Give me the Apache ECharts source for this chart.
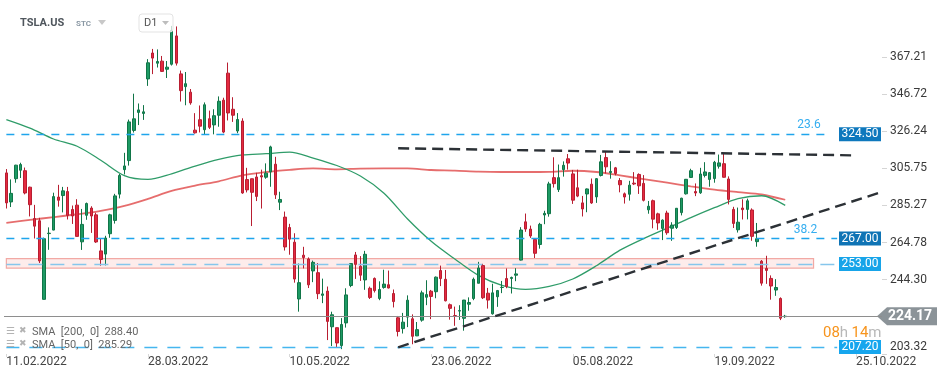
<!DOCTYPE html>
<html>
<head>
<meta charset="utf-8">
<title>TSLA.US D1</title>
<script src="https://cdn.jsdelivr.net/npm/echarts@6/dist/echarts.min.js"></script>
<style>
  html, body { margin: 0; padding: 0; background: #fff; }
  #main { width: 949px; height: 378px; }
</style>
</head>
<body>
<div id="main"></div>
<script>
// trading days on the chart
var dates = [
  '11.02.2022','14.02.2022','15.02.2022','16.02.2022','17.02.2022','18.02.2022','22.02.2022','23.02.2022','24.02.2022','25.02.2022',
  '28.02.2022','01.03.2022','02.03.2022','03.03.2022','04.03.2022','07.03.2022','08.03.2022','09.03.2022','10.03.2022','11.03.2022',
  '14.03.2022','15.03.2022','16.03.2022','17.03.2022','18.03.2022','21.03.2022','22.03.2022','23.03.2022','24.03.2022','25.03.2022',
  '28.03.2022','29.03.2022','30.03.2022','31.03.2022','01.04.2022','04.04.2022','05.04.2022','06.04.2022','07.04.2022','08.04.2022',
  '11.04.2022','12.04.2022','13.04.2022','14.04.2022','18.04.2022','19.04.2022','20.04.2022','21.04.2022','22.04.2022','25.04.2022',
  '26.04.2022','27.04.2022','28.04.2022','29.04.2022','02.05.2022','03.05.2022','04.05.2022','05.05.2022','06.05.2022','09.05.2022',
  '10.05.2022','11.05.2022','12.05.2022','13.05.2022','16.05.2022','17.05.2022','18.05.2022','19.05.2022','20.05.2022','23.05.2022',
  '24.05.2022','25.05.2022','26.05.2022','27.05.2022','31.05.2022','01.06.2022','02.06.2022','03.06.2022','06.06.2022','07.06.2022',
  '08.06.2022','09.06.2022','10.06.2022','13.06.2022','14.06.2022','15.06.2022','16.06.2022','17.06.2022','21.06.2022','22.06.2022',
  '23.06.2022','24.06.2022','27.06.2022','28.06.2022','29.06.2022','30.06.2022','01.07.2022','05.07.2022','06.07.2022','07.07.2022',
  '08.07.2022','11.07.2022','12.07.2022','13.07.2022','14.07.2022','15.07.2022','18.07.2022','19.07.2022','20.07.2022','21.07.2022',
  '22.07.2022','25.07.2022','26.07.2022','27.07.2022','28.07.2022','29.07.2022','01.08.2022','02.08.2022','03.08.2022','04.08.2022',
  '05.08.2022','08.08.2022','09.08.2022','10.08.2022','11.08.2022','12.08.2022','15.08.2022','16.08.2022','17.08.2022','18.08.2022',
  '19.08.2022','22.08.2022','23.08.2022','24.08.2022','25.08.2022','26.08.2022','29.08.2022','30.08.2022','31.08.2022','01.09.2022',
  '02.09.2022','06.09.2022','07.09.2022','08.09.2022','09.09.2022','12.09.2022','13.09.2022','14.09.2022','15.09.2022','16.09.2022',
  '19.09.2022','20.09.2022','21.09.2022','22.09.2022','23.09.2022','26.09.2022','27.09.2022','28.09.2022','29.09.2022','30.09.2022',
  '03.10.2022','04.10.2022','05.10.2022','06.10.2022','07.10.2022','10.10.2022'
];
// empty slots to the right of the last candle
var futureDays = [
  '11.10.2022','12.10.2022','13.10.2022','14.10.2022','15.10.2022','16.10.2022','17.10.2022','18.10.2022','19.10.2022','20.10.2022',
  '21.10.2022','22.10.2022','23.10.2022','24.10.2022','25.10.2022','26.10.2022','27.10.2022','28.10.2022','29.10.2022','30.10.2022'
];
// [open, close, low, high]
var ohlc = [
  [303.21,286.67,283.57,305.32],[287.19,291.92,284.38,299.63],[300.00,307.48,297.79,307.67],[304.68,307.80,300.40,308.81],[304.42,292.12,291.37,306.17],
  [295.33,285.66,279.20,295.62],[278.04,273.84,267.03,285.58],[276.81,254.68,253.52,278.43],[233.46,266.92,233.33,267.49],[269.74,269.96,260.80,273.17],
  [271.67,290.14,271.57,292.29],[289.89,288.12,284.59,296.63],[290.71,293.30,281.42,295.49],[292.92,279.76,277.53,295.48],[283.03,279.43,275.05,285.22],
  [285.43,268.19,268.19,288.71],[265.18,274.80,260.72,283.33],[279.83,286.32,277.34,286.85],[283.82,279.43,270.12,284.82],[280.07,265.12,264.59,281.27],
  [260.20,255.46,252.01,266.90],[258.42,267.30,252.19,268.52],[269.67,280.08,267.42,280.67],[277.00,290.53,275.24,291.67],[291.50,301.80,289.13,302.62],
  [304.99,307.05,302.36,314.28],[310.00,331.33,307.25,332.62],[326.65,333.04,325.47,346.90],[336.58,337.97,329.60,341.50],[336.00,336.88,332.44,340.60],
  [355.03,363.95,351.20,365.96],[369.33,366.52,357.70,371.59],[363.72,364.66,361.33,371.32],[364.86,359.20,358.88,367.71],[360.38,361.53,355.55,364.92],
  [363.13,381.82,362.43,384.29],[378.77,363.75,362.43,384.00],[357.82,348.59,342.57,359.67],[350.80,352.42,340.51,358.86],[347.74,341.83,340.81,349.48],
  [326.80,325.31,324.88,336.16],[332.55,328.98,325.53,340.40],[327.03,340.79,324.37,342.08],[333.10,328.33,327.40,337.57],[329.68,334.76,324.47,338.31],
  [335.02,342.72,328.67,345.40],[343.33,325.73,325.08,344.67],[358.24,336.26,332.14,364.07],[338.30,335.02,331.33,344.95],[326.32,332.67,325.10,336.21],
  [331.81,292.14,291.67,333.33],[299.53,293.84,292.45,306.00],[299.99,292.50,273.90,300.00],[300.96,290.25,287.67,303.28],[301.67,300.98,283.54,305.00],
  [300.82,303.08,299.97,308.46],[303.77,317.54,295.56,318.21],[308.00,291.09,288.83,312.08],[287.03,288.55,282.70,292.81],[278.82,262.37,260.38,281.88],
  [273.10,266.68,258.08,275.12],[265.00,244.67,242.67,269.92],[233.67,242.67,226.67,253.22],[257.83,256.53,250.52,262.45],[255.72,241.46,239.70,256.59],
  [249.12,253.87,242.95,254.83],[248.17,236.60,233.60,253.50],[235.67,236.47,231.37,244.89],[238.00,221.30,211.00,240.53],[218.34,224.97,207.69,226.65],
  [217.84,209.39,206.86,217.97],[207.95,219.60,206.00,223.11],[220.47,235.91,217.89,239.56],[241.08,253.21,240.18,253.27],[257.95,252.75,244.74,259.60],
  [251.72,246.79,243.62,257.33],[244.18,258.33,238.71,260.21],[239.56,234.52,233.67,240.50],[245.00,238.28,237.24,245.54],[233.95,238.89,233.00,243.41],
  [240.04,241.87,239.35,249.83],[241.53,239.71,239.50,249.33],[236.68,232.23,229.00,238.89],[223.29,215.74,213.02,224.30],[217.33,220.89,214.61,225.99],
  [223.67,233.00,218.15,235.66],[222.74,213.10,208.69,225.17],[213.32,216.76,213.20,220.97],[221.99,237.04,221.13,238.27],[234.63,236.09,230.26,244.00],
  [237.96,235.07,222.55,238.66],[237.67,245.71,234.07,246.07],[249.37,244.92,240.77,252.07],[244.54,232.66,232.33,249.67],[230.50,228.49,222.27,231.17],
  [224.51,224.47,218.86,229.46],[227.00,227.26,222.12,230.23],[223.00,233.07,216.17,233.15],[230.78,231.73,227.19,234.56],[233.92,244.54,233.00,245.47],
  [242.33,250.76,242.33,254.15],[252.10,234.34,233.63,253.06],[236.85,233.07,228.37,239.77],[225.50,237.04,225.03,242.06],[234.90,238.31,229.33,238.65],
  [240.00,240.07,236.89,243.62],[244.94,240.55,239.60,250.52],[245.00,245.53,236.69,246.00],[246.78,247.50,243.48,250.66],[255.11,271.71,254.87,273.27],
  [276.22,272.24,270.71,280.79],[272.22,268.43,267.34,274.14],[266.51,258.86,256.26,267.31],[263.73,274.82,261.43,275.66],[279.99,280.90,274.92,282.33],
  [280.70,297.15,279.06,298.32],[300.59,297.28,295.13,311.83],[294.00,300.59,292.67,307.83],[305.00,307.40,301.16,309.55],[311.00,308.63,305.00,313.61],
  [302.67,288.17,286.10,304.83],[295.00,290.42,289.83,305.00],[286.67,283.33,279.17,290.51],[291.58,294.36,281.52,294.63],[297.00,286.63,286.14,300.12],
  [289.98,300.03,286.67,300.33],[301.79,309.32,301.23,313.13],[311.67,306.56,302.88,314.67],[303.40,304.00,300.03,309.66],[306.00,302.87,301.85,306.50],
  [299.00,296.67,292.50,300.36],[291.67,289.91,286.29,292.40],[291.45,296.45,287.92,298.83],[297.56,297.10,296.50,303.65],[302.36,296.07,291.60,302.96],
  [297.43,288.09,287.47,302.00],[282.83,284.82,280.70,287.74],[287.87,277.70,272.65,288.48],[280.62,275.61,271.81,281.25],[272.58,277.16,266.15,277.58],
  [281.07,270.21,269.08,282.35],[272.68,274.42,265.74,275.99],[273.10,283.70,272.27,283.84],[281.30,289.26,279.76,289.50],[291.67,299.68,291.25,299.85],
  [300.72,304.42,300.40,305.49],[292.90,292.13,290.40,297.40],[292.24,302.61,291.64,306.00],[301.83,303.75,300.72,309.12],[299.61,303.35,295.60,303.71],
  [300.09,309.07,297.80,309.84],[306.91,308.73,305.58,313.33],[308.29,300.80,300.63,313.80],[299.86,288.59,285.82,301.29],[283.09,275.33,272.82,284.50],
  [271.83,276.01,270.31,284.09],[283.84,282.94,277.51,288.67],[283.08,287.81,277.57,289.00],[282.76,268.21,265.78,283.65],[265.30,266.90,262.50,275.60],
  [254.50,242.40,241.01,255.16],[250.52,249.44,242.01,257.50],[245.01,240.81,233.27,246.67],[238.60,240.00,235.40,244.60],[233.94,223.07,222.02,234.57],
  [223.93,224.17,223.30,224.90]
];
// moving averages, one point every 5 bars
var smaStep = 5;
var sma200 = [275.6,277.3,278.8,280.4,282.3,285.0,288.9,293.3,296.2,298.6,301.9,303.7,304.9,305.7,305.2,305.6,305.7,
  305.7,304.8,304.5,303.9,303.7,303.7,303.8,304.4,303.7,301.8,299.8,297.8,295.8,294.0,292.6,291.3,288.4];
var sma50 = [332.6,327.9,321.9,317.9,310.2,301.7,299.6,302.7,307.0,310.7,313.1,313.8,314.7,311.4,307.3,301.5,292.0,
  277.8,265.5,255.7,246.7,241.2,239.0,240.6,244.7,252.0,260.6,267.0,272.7,278.5,284.0,289.0,290.6,285.3];
var yTicks = [203.32, 244.30, 264.78, 285.27, 305.75, 326.24, 346.72, 367.21];
var lastPrice = 224.17;
var fibLevels = [324.50, 267.00];
var fibNames = ['23.6', '38.2'];
var zoneLevel = 253.00;
var zoneRange = [250.7, 255.9];
var supportLevel = 207.20;
// trend lines: [startIndex, startValue, endIndex, endValue]
var upperTrend = [82.8, 316.8, 179.4, 312.9];
var lowerTrend = [82.8, 207.0, 184.7, 292.3];
var sma200Last = '288.40';
var sma50Last = '285.29';

var allDays = dates.concat(futureDays);
var font = 'Roboto, "Noto Sans", sans-serif';

var toPoints = function (list) {
  var out = [];
  for (var i = 0; i < list.length; i++) {
    out.push([i * smaStep, list[i]]);
  }
  return out;
};

var blueDash = function (v, endIdx, color, dash, name, dist) {
  return [
    { coord: [-0.5, v], lineStyle: { color: color, width: 1.3, type: dash },
      label: name ? { show: true, position: 'insideEndTop', formatter: name, color: '#35aef0',
        fontSize: 12, fontFamily: font, distance: [dist, 3] } : { show: false } },
    { coord: [endIdx, v] }
  ];
};

var chart = echarts.init(document.getElementById('main'));

var option = {
  animation: false,
  backgroundColor: '#fff',
  grid: { left: 4, right: 67, top: 10, bottom: 24 },
  xAxis: {
    type: 'category',
    data: allDays,
    boundaryGap: true,
    axisLine: { show: false },
    axisTick: { show: true, alignWithLabel: true, length: 3, lineStyle: { color: '#d8d8d8' },
      interval: function (i) { return i % 30 === 0; } },
    axisLabel: {
      interval: function (i) { return i % 30 === 0; },
      align: 'left', margin: 2, fontSize: 12, color: '#444', fontFamily: font
    },
    splitLine: { show: false }
  },
  yAxis: {
    type: 'value',
    position: 'right',
    min: 203.32,
    max: 393.06,
    axisLine: { show: false },
    splitLine: { show: false },
    axisTick: { show: true, length: 5, customValues: yTicks, lineStyle: { color: '#d5d5d5' } },
    axisLabel: {
      customValues: yTicks,
      margin: 8, fontSize: 12, color: '#3a3a3a', fontFamily: font,
      formatter: function (v) {
        var s = v.toFixed(2);
        return v === yTicks[0] ? '{low|' + s + '}' : s;
      },
      rich: { low: { padding: [0, 0, 14, 0], fontSize: 12, color: '#3a3a3a', fontFamily: font } }
    }
  },
  series: [
    {
      name: 'SMA200', type: 'line', data: toPoints(sma200), smooth: 0.3, symbol: 'none',
      lineStyle: { color: '#e35d5d', width: 1.8, opacity: 0.9 }, z: 1
    },
    {
      name: 'SMA50', type: 'line', data: toPoints(sma50), smooth: 0.3, symbol: 'none',
      lineStyle: { color: '#2f9c69', width: 1.3 }, z: 1
    },
    {
      name: 'TSLA.US', type: 'candlestick', data: ohlc, barWidth: 3, z: 2,
      itemStyle: {
        color: '#1d9a64', borderColor: '#117548',
        color0: '#e42a40', borderColor0: '#b81e31', borderWidth: 1
      },
      markArea: {
        silent: true,
        itemStyle: { color: 'rgba(244,128,118,0.15)', borderColor: '#f2a9a4', borderWidth: 1.2 },
        data: [[{ coord: [-0.5, zoneRange[1]] }, { coord: [170.9, zoneRange[0]] }]]
      },
      markLine: {
        silent: true,
        symbol: ['none', 'none'],
        label: { show: false },
        data: [
          blueDash(fibLevels[0], 173.9, '#1fa5ec', [8, 7], fibNames[0], 7),
          blueDash(fibLevels[1], 176.3, '#1fa5ec', [8, 7], fibNames[1], 20),
          blueDash(zoneLevel, 176.3, '#86c6ec', [14, 8], null, 0),
          blueDash(supportLevel, 176.3, '#45b6ef', [13, 10], null, 0),
          { yAxis: lastPrice, lineStyle: { color: '#8e8e8e', width: 1, type: 'solid' } },
          [
            { coord: [upperTrend[0], upperTrend[1]], lineStyle: { color: '#2c3136', width: 2.4, type: [11, 6] } },
            { coord: [upperTrend[2], upperTrend[3]] }
          ],
          [
            { coord: [lowerTrend[0], lowerTrend[1]], lineStyle: { color: '#2c3136', width: 2.4, type: [11, 6] } },
            { coord: [lowerTrend[2], lowerTrend[3]] }
          ]
        ]
      }
    }
  ]
};

chart.setOption(option);

// right side price tags and header placed from the axis scale
var tagY = function (v) { return chart.convertToPixel({ yAxisIndex: 0 }, v); };
var tag = function (v, color) {
  var y = tagY(v);
  return {
    type: 'group', z: 50,
    children: [
      { type: 'rect', shape: { x: 839, y: y - 7, width: 42, height: 14 }, style: { fill: color } },
      { type: 'text', x: 860, y: y, style: { text: v.toFixed(2), fill: '#fff', font: '12px ' + font, align: 'center', verticalAlign: 'middle' } }
    ]
  };
};
var py = tagY(lastPrice);
var graphics = [
  tag(fibLevels[0], '#0e78bd'),
  tag(fibLevels[1], '#0f74b5'),
  tag(zoneLevel, '#17a4e9'),
  tag(supportLevel, '#16a6ee'),
  {
    type: 'group', z: 50,
    children: [
      { type: 'polygon', shape: { points: [[877, py], [887, py - 9], [937, py - 9], [937, py + 9], [887, py + 9]] }, style: { fill: '#8b9398' } },
      { type: 'text', x: 910, y: py, style: { text: lastPrice.toFixed(2), fill: '#fff', font: 'bold 14px ' + font, align: 'center', verticalAlign: 'middle' } }
    ]
  },
  {
    type: 'text', x: 823, y: 333, z: 50,
    style: {
      text: '{o|08}{g|h} {o|14}{g|m}', verticalAlign: 'middle',
      rich: {
        o: { fill: '#f7941d', font: '15px ' + font },
        g: { fill: '#b8b8b8', font: '15px ' + font }
      }
    }
  },
  // header
  { type: 'text', x: 20, y: 23, z: 50, style: { text: 'TSLA.US', fill: '#4f565d', font: 'bold 11px ' + font, verticalAlign: 'middle' } },
  { type: 'text', x: 76, y: 24, z: 50, style: { text: 'STC', fill: '#8a98a4', font: 'bold 8px ' + font, verticalAlign: 'middle' } },
  { type: 'polygon', z: 50, shape: { points: [[98, 20], [106, 20], [102, 25]] }, style: { fill: '#c8c8c8' } },
  { type: 'rect', z: 50, shape: { x: 139, y: 14, width: 34, height: 18, r: 3 }, style: { fill: 'rgba(255,255,255,0.75)', stroke: '#e3e3e3', lineWidth: 1 } },
  { type: 'text', x: 144, y: 23, z: 51, style: { text: 'D1', fill: '#555', font: '11px ' + font, verticalAlign: 'middle' } },
  { type: 'polygon', z: 51, shape: { points: [[162, 21], [169, 21], [165.5, 25]] }, style: { fill: '#bdbdbd' } },
  // indicator legend
  { type: 'text', x: 6, y: 331, z: 50, style: { text: '\u2630', fill: '#b3b3b3', font: '10px "DejaVu Sans"', verticalAlign: 'middle' } },
  { type: 'text', x: 19, y: 331, z: 50, style: { text: '\u2716', fill: '#b3b3b3', font: '9px "DejaVu Sans"', verticalAlign: 'middle' } },
  { type: 'text', x: 32, y: 332, z: 50, style: { text: 'SMA  [200,  0]  ' + sma200Last, fill: '#666', font: '11px ' + font, verticalAlign: 'middle' } },
  { type: 'text', x: 6, y: 344, z: 50, style: { text: '\u2630', fill: '#b3b3b3', font: '10px "DejaVu Sans"', verticalAlign: 'middle' } },
  { type: 'text', x: 19, y: 344, z: 50, style: { text: '\u2716', fill: '#b3b3b3', font: '9px "DejaVu Sans"', verticalAlign: 'middle' } },
  { type: 'text', x: 32, y: 345, z: 50, style: { text: 'SMA  [50,  0]  ' + sma50Last, fill: '#666', font: '11px ' + font, verticalAlign: 'middle' } }
];
chart.setOption({ graphic: graphics });
</script>
</body>
</html>
